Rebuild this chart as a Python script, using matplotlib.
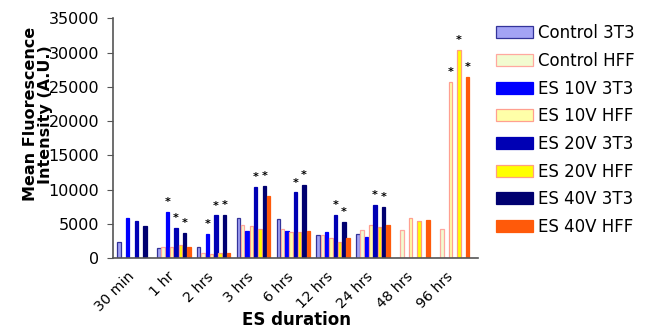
import matplotlib
matplotlib.use("Agg")
import matplotlib.pyplot as plt
import numpy as np

plt.rcParams['font.family'] = ['DejaVu Sans']

groups = ["30 min", "1 hr", "2 hrs", "3 hrs", "6 hrs", "12 hrs", "24 hrs", "48 hrs", "96 hrs"]
series_names = ["Control 3T3", "Control HFF", "ES 10V 3T3", "ES 10V HFF",
                "ES 20V 3T3", "ES 20V HFF", "ES 40V 3T3", "ES 40V HFF"]

control_3t3 = [2400, 1450, 1600, 5850, 5700, 3400, 3500, 0, 0]
control_hff = [0, 1600, 820, 4900, 4250, 3400, 4150, 4150, 4250]
es10_3t3 = [5850, 6800, 3550, 4000, 3950, 3900, 3150, 0, 0]
es10_hff = [0, 1600, 650, 4750, 3800, 2950, 4850, 5850, 25750]
es20_3t3 = [5450, 4400, 6270, 10400, 9600, 6300, 7750, 0, 0]
es20_hff = [0, 1900, 770, 4250, 3800, 2350, 4600, 5450, 30450]
es40_3t3 = [4700, 3700, 6300, 10550, 10650, 5350, 7450, 0, 0]
es40_hff = [0, 1700, 770, 9100, 4000, 2950, 4850, 5600, 26450]

series = [control_3t3, control_hff, es10_3t3, es10_hff, es20_3t3, es20_hff, es40_3t3, es40_hff]

# significance markers: (series index, group index)
significant = [(2, 1), (4, 1), (6, 1), (2, 2), (4, 2), (6, 2), (4, 3), (6, 3),
               (4, 4), (6, 4), (4, 5), (6, 5), (4, 6), (6, 6), (3, 8), (5, 8), (7, 8)]

fills = ["#a3a3f5", "#f2fbd0", "#0000ff", "#ffffa8", "#0000b4", "#ffff00", "#000070", "#ff5a0a"]
edges = ["#33339a", "#ffa8a0", "#0000ff", "#ffa090", "#0000b4", "#ffa080", "#000070", "#ff5a0a"]

fig = plt.figure(figsize=(6.48, 3.31), dpi=100)
ax = fig.add_axes([0.1744, 0.2196, 0.7377 - 0.1744, 0.9447 - 0.2196])

slot = 0.108
x = np.arange(len(groups))
handles = []
for i, (vals, fc, ec) in enumerate(zip(series, fills, edges)):
    pos = x + (i - 3.5) * slot
    h = ax.bar(pos, vals, width=slot * 0.8, color=fc, edgecolor=ec, linewidth=0.9,
               label=series_names[i])
    handles.append(h)

for si, gi in significant:
    v = series[si][gi]
    ax.text(gi + (si - 3.5) * slot, v + 700, "*", ha="center", va="bottom",
            fontsize=8, fontweight="bold", color="black")

ax.set_xlim(-0.53, 8.64)
ax.set_ylim(0, 35000)
ax.set_yticks(np.arange(0, 35001, 5000))
ax.set_xticks(x - 0.17)
ax.set_xticklabels(groups, rotation=45, ha="right", rotation_mode="anchor", fontsize=10.3)
ax.tick_params(axis="x", length=0, pad=8)
ax.tick_params(axis="y", length=4, width=0.8, labelsize=11.5, pad=6, color="#555555")
for s in ["top", "right"]:
    ax.spines[s].set_visible(False)
for s in ["left", "bottom"]:
    ax.spines[s].set_color("#555555")
    ax.spines[s].set_linewidth(1.2)

ax.set_ylabel("Mean Fluorescence\nIntensity (A.U.)", fontsize=11.5, fontweight="bold",
              linespacing=1.0)
ax.yaxis.set_label_coords(-0.165, 0.6)
fig.text(0.457, 0.006, "ES duration", ha="center", va="bottom", fontsize=12,
         fontweight="bold")

leg = fig.legend(handles=handles, loc="upper left", bbox_to_anchor=(0.755, 0.947),
                 frameon=False, fontsize=12, handlelength=2.2, handleheight=0.72,
                 handletextpad=0.3, labelspacing=0.58, borderaxespad=0)

fig.savefig("out.png", dpi=100)
